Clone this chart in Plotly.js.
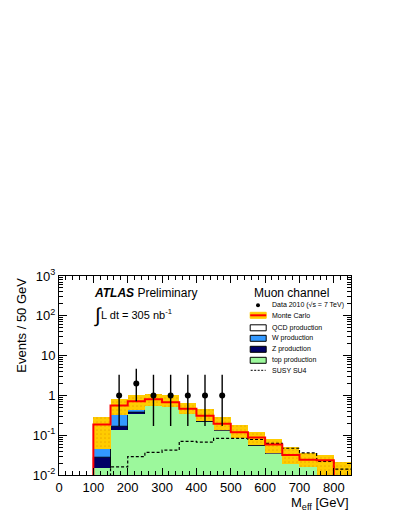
<!DOCTYPE html>
<html>
<head>
<meta charset="utf-8">
<script src="https://cdn.plot.ly/plotly-3.0.1.min.js"></script>
<style>
  body { margin: 0; background: #fff; }
  #chart { width: 399px; height: 516px; }
</style>
</head>
<body>
<div id="chart"></div>
<script>
// Meff histogram, 50 GeV bins (centres)
var binCenters = [25, 75, 125, 175, 225, 275, 325, 375, 425, 475, 525, 575, 625, 675, 725, 775, 825];

// MC stack components (events / 50 GeV)
var topProd = [0, 0, 0.0153, 0.133, 0.35, 0.54, 0.50, 0.35, 0.22, 0.13, 0.085, 0.055, 0.034, 0.019, 0.0165, 0, 0];
var zProd   = [0, 0, 0.0127, 0.035, 0.03, 0.005, 0.003, 0.002, 0, 0, 0, 0, 0, 0, 0, 0, 0];
var wProd   = [0, 0, 0.018, 0.152, 0.06, 0.01, 0.005, 0.003, 0.002, 0, 0, 0, 0, 0, 0, 0, 0];
var qcdProd = [0, 0, 0.139, 0.235, 0.27, 0.245, 0.162, 0.105, 0.088, 0.065, 0.033, 0.032, 0.024, 0.013, 0.0075, 0.0235, 0];

// MC uncertainty band
var bandLow  = [null, null, 0.046, 0.32, 0.44, 0.55, 0.50, 0.35, 0.224, 0.133, 0.087, 0.056, 0.035, 0.019, 0.016, 0.005, 0.005];
var bandHigh = [null, null, 0.28, 0.83, 1.0, 1.07, 1.0, 0.65, 0.46, 0.28, 0.177, 0.118, 0.078, 0.051, 0.036, 0.032, 0.021];

// SUSY SU4 signal
var susySU4 = [0, 0, 0, 0.016, 0.029, 0.037, 0.042, 0.07, 0.067, 0.083, 0.083, 0.078, 0.062, 0.047, 0.036, 0.022, 0.014];

// Data 2010
var dataX = [175, 225, 275, 325, 375, 425, 475];
var dataY = [1, 2, 1, 1, 1, 1, 1];
var dataErrUp = [2.30, 2.64, 2.30, 2.30, 2.30, 2.30, 2.30];
var dataErrDn = [0.83, 1.29, 0.83, 0.83, 0.83, 0.83, 0.83];

var binW = 50;
var font = 'Liberation Sans, Arial, Helvetica, sans-serif';

// cumulative stack
var cumTop = topProd.slice();
var cumZ = cumTop.map(function(v, i) { return v + zProd[i]; });
var cumW = cumZ.map(function(v, i) { return v + wProd[i]; });
var cumAll = cumW.map(function(v, i) { return v + qcdProd[i]; });

// step-line helper (log axis: empty bins pushed below the axis)
function steps(vals) {
  var xs = binCenters.map(function(c) { return c - binW / 2; });
  xs.push(binCenters[binCenters.length - 1] + binW / 2);
  var ys = vals.map(function(v) { return v > 0 ? v : 1e-3; });
  ys.push(ys[ys.length - 1]);
  return { x: xs, y: ys };
}

function barTrace(y, color, lineColor) {
  return {
    type: 'bar', x: binCenters, y: y, width: binW,
    marker: { color: color, line: { color: lineColor || color, width: lineColor ? 0.8 : 0 } },
    hoverinfo: 'skip', showlegend: false
  };
}

var mcStep = steps(cumAll);
var susyStep = steps(susySU4);

var traces = [
  barTrace(cumAll, '#ffffff'),
  barTrace(cumW, '#3399ff'),
  barTrace(cumZ, '#000066', '#000000'),
  barTrace(cumTop, '#9cf89c'),
  {
    type: 'bar', x: binCenters, width: binW,
    base: bandLow,
    y: bandHigh.map(function(v, i) { return v == null ? null : v - bandLow[i]; }),
    marker: { color: '#ffcc00', line: { width: 0 },
      pattern: { shape: '.', fgcolor: '#f0ac00', bgcolor: '#ffcc00', size: 4, solidity: 0.15 } },
    hoverinfo: 'skip', showlegend: false
  },
  {
    type: 'scatter', mode: 'lines', x: susyStep.x, y: susyStep.y,
    line: { shape: 'hv', color: '#000', width: 1.2, dash: '3px,2px' }, showlegend: false
  },
  {
    type: 'scatter', mode: 'lines', x: mcStep.x, y: mcStep.y,
    line: { shape: 'hv', color: '#ff0000', width: 2 }, showlegend: false
  },
  {
    type: 'scatter', mode: 'markers', x: dataX, y: dataY,
    marker: { color: '#000', size: 6 },
    error_y: { type: 'data', symmetric: false, array: dataErrUp, arrayminus: dataErrDn,
      color: '#000', thickness: 1.4, width: 0 },
    showlegend: false
  }
];

// plot area in pixels: x 59..351, y 276..475
function px(x) { return (x - 59.3) / 292; }
function py(y) { return (474.7 - y) / 199; }

var yMinor = [];
for (var d = -2; d < 3; d++) {
  for (var k = 2; k < 10; k++) yMinor.push(k * Math.pow(10, d));
}

var legendRows = [
  { y: 305, text: 'Data 2010 (\u221As = 7 TeV)' },
  { y: 315, text: 'Monte Carlo' },
  { y: 327.5, text: 'QCD production' },
  { y: 338, text: 'W production' },
  { y: 349, text: 'Z production' },
  { y: 360, text: 'top production' },
  { y: 370, text: 'SUSY SU4' }
];

var annotations = [
  { x: px(92), y: py(293), text: '<b><i>ATLAS</i></b> Preliminary', xanchor: 'left',
    font: { size: 12, color: '#000' } },
  { x: px(92), y: py(315), text: '\u222B', xanchor: 'left', font: { size: 20, color: '#000' } },
  { x: px(99), y: py(314), text: 'L dt = 305 nb<sup>-1</sup>', xanchor: 'left',
    font: { size: 11, color: '#000' } },
  { x: px(292), y: py(293), text: 'Muon channel', xanchor: 'center',
    font: { size: 12, color: '#000' } },
  { x: 1, y: py(503), text: 'M<sub>eff</sub> [GeV]', xanchor: 'right',
    font: { size: 13, color: '#000' } },
  { x: px(21.5), y: 1, text: 'Events / 50 GeV', textangle: -90, xanchor: 'center', yanchor: 'top',
    font: { size: 13, color: '#000' } }
];
legendRows.forEach(function(r) {
  annotations.push({ x: px(270), y: py(r.y), text: r.text, xanchor: 'left',
    font: { size: 7, color: '#000' } });
});
annotations.forEach(function(a) {
  a.xref = 'paper'; a.yref = 'paper'; a.showarrow = false;
  if (!a.yanchor) a.yanchor = 'middle';
});

function box(row, fill, line) {
  var y = legendRows[row].y;
  return { type: 'rect', xref: 'paper', yref: 'paper',
    x0: px(250.5), x1: px(266.5), y0: py(y + 3), y1: py(y - 3),
    fillcolor: fill, line: { color: line || '#000', width: 1 } };
}

var shapes = [
  { type: 'circle', xref: 'paper', yref: 'paper',
    x0: px(256.3), x1: px(260.3), y0: py(legendRows[0].y + 2), y1: py(legendRows[0].y - 2),
    fillcolor: '#000', line: { width: 0 } },
  box(1, '#ffcc00', '#ffcc00'),
  { type: 'line', xref: 'paper', yref: 'paper', x0: px(250.5), x1: px(266.5),
    y0: py(legendRows[1].y), y1: py(legendRows[1].y), line: { color: '#ff0000', width: 2 } },
  box(2, '#ffffff'),
  box(3, '#3399ff'),
  box(4, '#000066'),
  box(5, '#9cf89c'),
  { type: 'line', xref: 'paper', yref: 'paper', x0: px(251), x1: px(266),
    y0: py(legendRows[6].y), y1: py(legendRows[6].y), line: { color: '#000', width: 1, dash: '2px,1.5px' } }
];

var layout = {
  width: 399, height: 516,
  margin: { l: 59, r: 48, t: 276, b: 41 },
  paper_bgcolor: '#fff', plot_bgcolor: '#fff',
  font: { family: font, color: '#000' },
  barmode: 'overlay', bargap: 0,
  showlegend: false,
  xaxis: {
    range: [0, 850], tickvals: [0, 100, 200, 300, 400, 500, 600, 700, 800],
    ticks: 'inside', ticklen: 7, tickwidth: 1, tickcolor: '#000',
    minor: { dtick: 20, ticks: 'inside', ticklen: 4, tickcolor: '#000' },
    showline: true, linecolor: '#000', linewidth: 1, mirror: 'allticks',
    showgrid: false, zeroline: false,
    tickfont: { size: 13, color: '#000' }
  },
  yaxis: {
    type: 'log', range: [-2, 3],
    tickvals: [0.01, 0.1, 1, 10, 100, 1000],
    ticktext: ['10<sup>-2</sup>', '10<sup>-1</sup>', '1', '10', '10<sup>2</sup>', '10<sup>3</sup>'],
    ticks: 'inside', ticklen: 8, tickwidth: 1, tickcolor: '#000',
    minor: { tickvals: yMinor, ticks: 'inside', ticklen: 4, tickcolor: '#000' },
    showline: true, linecolor: '#000', linewidth: 1, mirror: 'allticks',
    showgrid: false, zeroline: false,
    tickfont: { size: 13, color: '#000' }
  },
  annotations: annotations,
  shapes: shapes
};

Plotly.newPlot('chart', traces, layout, { staticPlot: true });
</script>
</body>
</html>
